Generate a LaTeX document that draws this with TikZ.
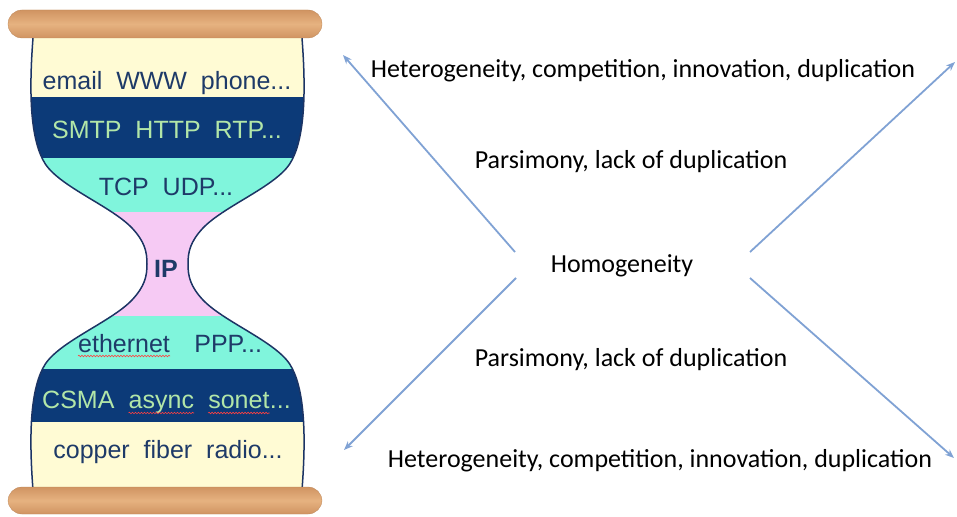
\documentclass[tikz,border=0pt]{standalone}
\usepackage{fontspec}
\setmainfont{Carlito}
\newfontfamily\glassfont{Liberation Sans}
\usetikzlibrary{positioning,arrows.meta,decorations.pathmorphing}

\definecolor{cream}{RGB}{255,251,212}
\definecolor{navyband}{RGB}{12,58,120}
\definecolor{turq}{RGB}{128,245,220}
\definecolor{pinkband}{RGB}{246,202,244}
\definecolor{glassline}{RGB}{28,52,100}
\definecolor{darktext}{RGB}{30,58,104}
\definecolor{mint}{RGB}{178,230,168}
\definecolor{woodlight}{RGB}{230,178,128}
\definecolor{wooddark}{RGB}{208,148,98}
\definecolor{arrowblue}{RGB}{128,162,212}

\tikzset{
  layer/.style={font=\glassfont\fontsize{25}{30}\selectfont, inner sep=0pt, anchor=base},
  wood/.style={rounded corners=14pt, top color=wooddark, bottom color=wooddark,
    middle color=woodlight, draw=wooddark!90!black, line width=0.3pt},
  squiggle/.style={draw=red!75, line width=0.6pt, decorate,
    decoration={snake, amplitude=0.8pt, segment length=3pt}},
  trend/.style={draw=arrowblue, line width=1.8pt, -{Stealth[length=9pt,width=7pt]}},
  caption/.style={font=\fontsize{26}{30}\selectfont, inner sep=0pt, anchor=base},
  glassshape/.style={insert path={(33,20) -- (33,38)
    .. controls (29,90) and (30,135) .. (43,160)
    .. controls (55,185) and (110,205) .. (132,228)
    .. controls (145,242) and (147,252) .. (147,264)
    .. controls (147,276) and (145,286) .. (132,300)
    .. controls (110,323) and (55,343) .. (43,368)
    .. controls (30,393) and (29,438) .. (33,490) -- (33,505)
    -- (302,505) -- (302,490)
    .. controls (306,438) and (305,393) .. (292,368)
    .. controls (280,343) and (225,323) .. (203,300)
    .. controls (190,286) and (188,276) .. (188,264)
    .. controls (188,252) and (190,242) .. (203,228)
    .. controls (225,205) and (280,185) .. (292,160)
    .. controls (305,135) and (306,90) .. (302,38) -- (302,20) -- cycle}}
}

\begin{document}
\begin{tikzpicture}[x=1pt, y=-1pt]
    \useasboundingbox (0,0) rectangle (957,516);

    % hourglass layers
    \begin{scope}
        \clip[glassshape];
        \fill[cream] (0,0) rectangle (335,97);
        \fill[navyband] (0,97) rectangle (335,158);
        \fill[turq] (0,158) rectangle (335,212);
        \fill[pinkband] (0,212) rectangle (335,316);
        \fill[turq] (0,316) rectangle (335,369);
        \fill[navyband] (0,369) rectangle (335,422);
        \fill[cream] (0,422) rectangle (335,516);
    \end{scope}
    \draw[glassline, line width=1.5pt, glassshape];

    % wooden ends
    \path[wood] (8,10) rectangle (322,38);
    \path[wood] (8,487) rectangle (322,514);

    \node[layer, text=darktext] (apps) at (167,90) {email\ \ WWW\ \ phone...};
    \node[layer, text=mint] (appproto) at (167,138) {SMTP\ \ HTTP\ \ RTP...};
    \node[layer, text=darktext] (transport) at (166,195) {TCP\ \ UDP...};
    \node[layer, text=darktext, font=\glassfont\bfseries\fontsize{25}{30}\selectfont] (ip) at (166,277) {IP};
    \node[layer, text=darktext, anchor=base west] (ethernet) at (78,352) {ethernet};
    \node[layer, text=darktext, base right=24pt of ethernet] (ppp) {PPP...};
    \node[layer, text=mint, anchor=base west] (csma) at (42,408) {CSMA};
    \node[layer, text=mint, base right=13.9pt of csma] (async) {async};
    \node[layer, text=mint, base right=13.9pt of async] (sonet) {sonet};
    \node[layer, text=mint, base right=0pt of sonet] (dots) {...};
    \node[layer, text=darktext] (media) at (168,458) {copper\ \ fiber\ \ radio...};

    \draw[squiggle] ([yshift=-4pt]ethernet.base west) -- ([yshift=-4pt]ethernet.base east);
    \draw[squiggle] ([yshift=-5pt]async.base west) -- ([yshift=-5pt]async.base east);
    \draw[squiggle] ([yshift=-5pt]sonet.base west) -- ([yshift=-5pt]sonet.base east);

    % labels
    \node[caption] (hettop) at (643,78) {Heterogeneity, competition, innovation, duplication};
    \node[caption] (partop) at (631,168) {Parsimony, lack of duplication};
    \node[caption] (homog) at (622,272) {Homogeneity};
    \node[caption] (parbot) at (631,366) {Parsimony, lack of duplication};
    \node[caption] (hetbot) at (660,467) {Heterogeneity, competition, innovation, duplication};

    \coordinate (ulstart) at (515,252);
    \coordinate (ulend) at (343,55);
    \coordinate (urstart) at (750,252);
    \coordinate (urend) at (955,62);
    \coordinate (llstart) at (516,278);
    \coordinate (llend) at (344,450);
    \coordinate (lrstart) at (750,278);
    \coordinate (lrend) at (954,458);

    \draw[trend] (ulstart) -- (ulend);
    \draw[trend] (urstart) -- (urend);
    \draw[trend] (llstart) -- (llend);
    \draw[trend] (lrstart) -- (lrend);
\end{tikzpicture}
\end{document}
